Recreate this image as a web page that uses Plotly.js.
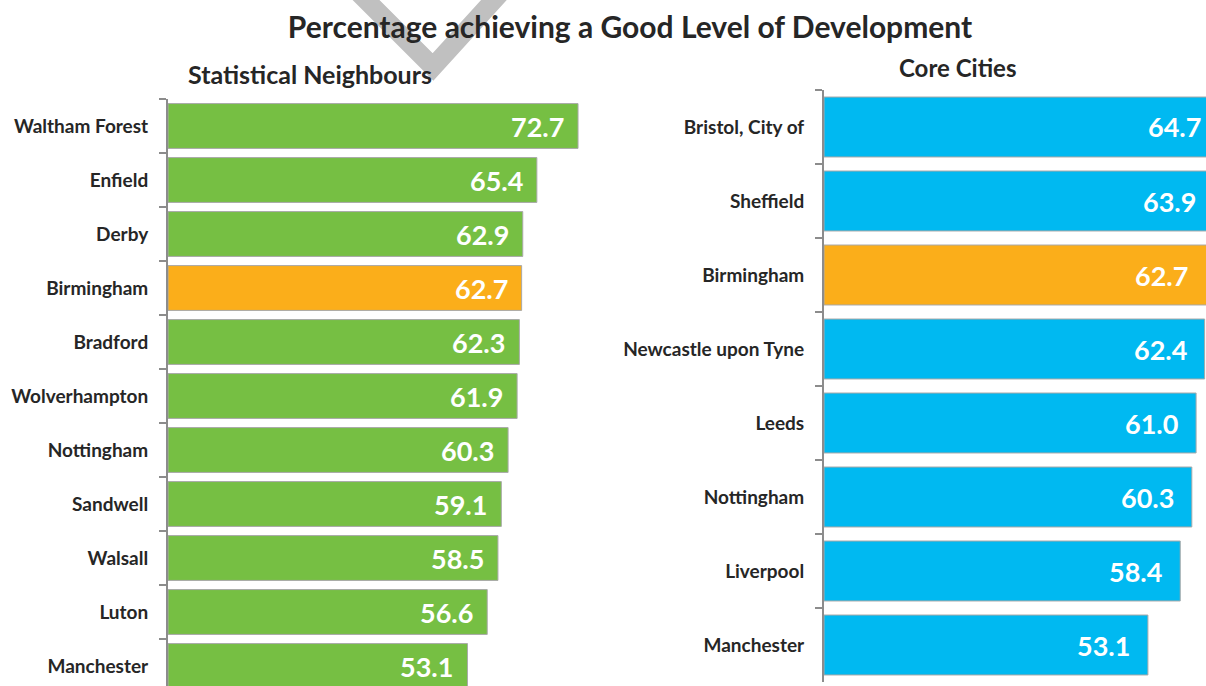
<!DOCTYPE html>
<html>
<head>
<meta charset="utf-8">
<script src="https://cdn.plot.ly/plotly-3.0.1.min.js"></script>
<style>
html, body { margin:0; padding:0; overflow:hidden; background:#fff; }
#chart { width:1222px; height:700px; }
</style>
</head>
<body>
<div id="chart"></div>
<script>
// Statistical Neighbours
const snAreas = ["Waltham Forest","Enfield","Derby","Birmingham","Bradford","Wolverhampton","Nottingham","Sandwell","Walsall","Luton","Manchester"];
const snValues = [72.7, 65.4, 62.9, 62.7, 62.3, 61.9, 60.3, 59.1, 58.5, 56.6, 53.1];
// Core Cities
const ccAreas = ["Bristol, City of","Sheffield","Birmingham","Newcastle upon Tyne","Leeds","Nottingham","Liverpool","Manchester"];
const ccValues = [64.7, 63.9, 62.7, 62.4, 61.0, 60.3, 58.4, 53.1];

const highlight = "Birmingham";
const GREEN = "#76bf43", CYAN = "#00b9f1", ORANGE = "#fbae1a";
const FONT = "Lato, 'Open Sans', sans-serif";
const W = 1222, H = 700;

const traces = [
  {
    type: "bar", orientation: "h", x: snValues, y: snAreas,
    xaxis: "x", yaxis: "y", width: 0.83,
    marker: { color: snAreas.map(a => a === highlight ? ORANGE : GREEN), line: { color: "#a9a9a9", width: 1 } },
    textposition: "none", hoverinfo: "x+y"
  },
  {
    type: "bar", orientation: "h", x: ccValues, y: ccAreas,
    xaxis: "x2", yaxis: "y2", width: 0.81,
    marker: { color: ccAreas.map(a => a === highlight ? ORANGE : CYAN), line: { color: "#a9a9a9", width: 1 } },
    textposition: "none", hoverinfo: "x+y"
  }
];

const valFont = { family: FONT, size: 27, color: "#ffffff", weight: "bold" };
const annotations = [];
snAreas.forEach((a, i) => annotations.push({
  xref: "x", yref: "y", x: snValues[i], y: a, text: snValues[i].toFixed(1),
  showarrow: false, xanchor: "right", yanchor: "middle", xshift: -12, font: valFont
}));
ccAreas.forEach((a, i) => annotations.push({
  xref: "x2", yref: "y2", x: ccValues[i], y: a, text: ccValues[i].toFixed(1),
  showarrow: false, xanchor: "right", yanchor: "middle", xshift: -16, font: valFont
}));
annotations.push({
  xref: "paper", yref: "paper", x: 310 / W, y: 1 - 74 / H, text: "Statistical Neighbours",
  showarrow: false, xanchor: "center", yanchor: "middle",
  font: { family: FONT, size: 25, color: "#262626", weight: "bold" }
});
annotations.push({
  xref: "paper", yref: "paper", x: 957 / W, y: 1 - 67 / H, text: "Core Cities",
  showarrow: false, xanchor: "center", yanchor: "middle",
  font: { family: FONT, size: 24, color: "#262626", weight: "bold" }
});

// grey pen stroke mark near the title (pixel points converted to paper)
const px = (x, y) => (x / W).toFixed(5) + "," + (1 - y / H).toFixed(5);
const markPath = "M " + px(356, -10) + " L " + px(433, 67) + " L " + px(503, -10);

const yCommon = {
  type: "category", autorange: "reversed",
  showline: true, linecolor: "#8c8c8c", linewidth: 2,
  ticks: "outside", tickson: "boundaries", ticklen: 7, tickwidth: 2, tickcolor: "#8c8c8c",
  ticklabelstandoff: 14,
  tickfont: { family: FONT, size: 19, color: "#262626", weight: "bold" },
  showgrid: false, zeroline: false, fixedrange: true
};
const xCommon = { showgrid: false, zeroline: false, showticklabels: false, showline: false, ticks: "", fixedrange: true };

const layout = {
  width: W, height: H,
  margin: { l: 0, r: 0, t: 0, b: 0 },
  paper_bgcolor: "#ffffff", plot_bgcolor: "rgba(0,0,0,0)",
  showlegend: false,
  title: {
    text: "Percentage achieving a Good Level of Development",
    font: { family: FONT, size: 30, color: "#262626", weight: "bold" },
    x: 630 / W, xanchor: "center", y: 1 - 27 / H, yanchor: "middle"
  },
  xaxis: Object.assign({}, xCommon, { domain: [168 / W, 620 / W], range: [0, 452 / 5.64], anchor: "y" }),
  yaxis: Object.assign({}, yCommon, { domain: [(H - 693) / H, (H - 99) / H], anchor: "x" }),
  xaxis2: Object.assign({}, xCommon, { domain: [824 / W, 1], range: [0, 398 / 6.1], anchor: "y2" }),
  yaxis2: Object.assign({}, yCommon, { domain: [(H - 682) / H, (H - 90) / H], anchor: "x2" }),
  shapes: [{
    type: "path", xref: "paper", yref: "paper", path: markPath, layer: "below",
    line: { color: "#c0c0c0", width: 19 }
  }],
  annotations: annotations
};

Plotly.newPlot("chart", traces, layout, { displayModeBar: false, staticPlot: true });
</script>
</body>
</html>
